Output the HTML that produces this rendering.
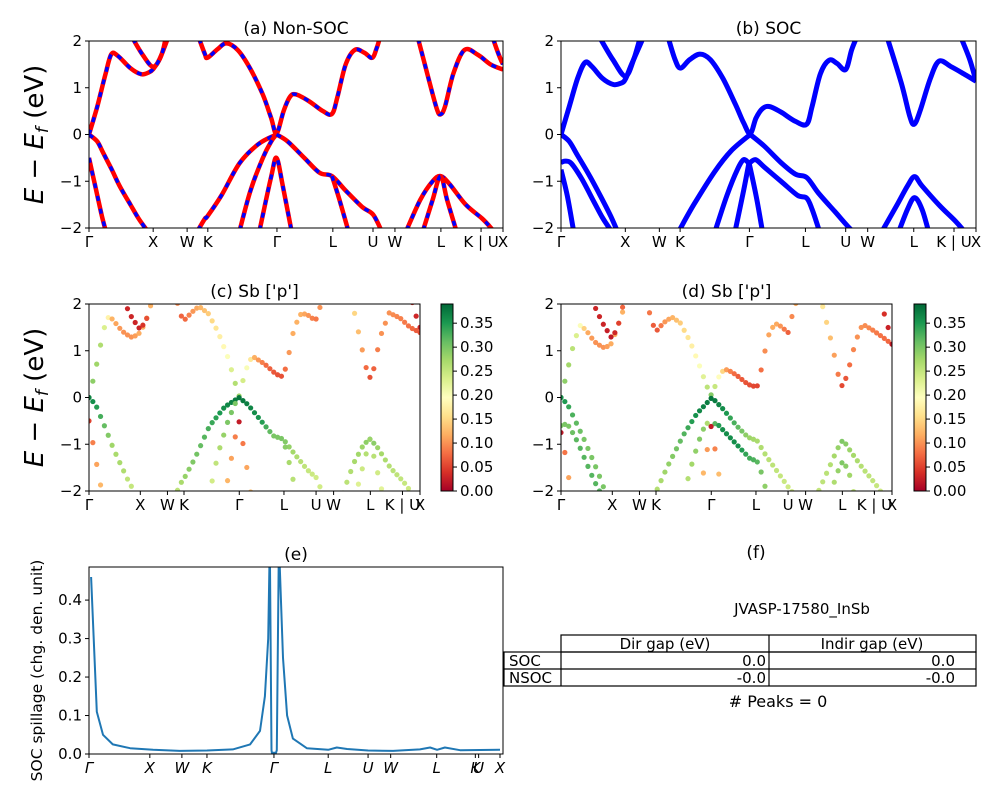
<!DOCTYPE html>
<html><head><meta charset="utf-8"><style>
body{margin:0;background:#fff}
svg{display:block;font-family:"DejaVu Sans","Liberation Sans",sans-serif}
</style></head><body>
<svg id="s" width="1000" height="800" viewBox="0 0 1000 800" xmlns="http://www.w3.org/2000/svg">
<defs>
<linearGradient id="cmap" x1="0" y1="1" x2="0" y2="0">
<stop offset="0" stop-color="#a50026"/><stop offset="0.1" stop-color="#d73027"/><stop offset="0.2" stop-color="#f46d43"/><stop offset="0.3" stop-color="#fdae61"/><stop offset="0.4" stop-color="#fee08b"/><stop offset="0.5" stop-color="#ffffbf"/><stop offset="0.6" stop-color="#d9ef8b"/><stop offset="0.7" stop-color="#a6d96a"/><stop offset="0.8" stop-color="#66bd63"/><stop offset="0.9" stop-color="#1a9850"/><stop offset="1" stop-color="#006837"/>
</linearGradient>
</defs>
<g id="root"></g>
<g font-size="15" fill="#000">
<text x="756" y="558" text-anchor="middle" font-size="17">(f)</text>
<text x="802" y="614" text-anchor="middle">JVASP-17580_InSb</text>
<g fill="none" stroke="#000" stroke-width="1.2">
<rect x="561" y="635" width="415" height="17"/>
<rect x="504" y="652" width="472" height="34"/>
<line x1="504" y1="669" x2="976" y2="669"/>
<line x1="561" y1="652" x2="561" y2="686"/>
<line x1="769" y1="635" x2="769" y2="686"/>
</g>
<text x="665" y="649" text-anchor="middle">Dir gap (eV)</text>
<text x="872" y="649" text-anchor="middle">Indir gap (eV)</text>
<text x="509" y="666">SOC</text>
<text x="509" y="683">NSOC</text>
<text x="766" y="666" text-anchor="end">0.0</text>
<text x="955" y="666" text-anchor="end">0.0</text>
<text x="766" y="683" text-anchor="end">-0.0</text>
<text x="955" y="683" text-anchor="end">-0.0</text>
<text x="778" y="707" text-anchor="middle" font-size="16"># Peaks = 0</text>
</g>
</svg>
<script>
const tickK=[0,.155,.237,.287,.454,.589,.686,.739,.850,.947,1];
const tickLab=["Γ","X","W","K","Γ","L","U","W","L","K | U","X"];
const eTicks=[2,1,0,-1,-2];
const eTickLab=["2","1","0","−1","−2"];
// Non-SOC bands: [k, E, weight]
const ns_cb1=[[0,0,.3],[.02,.6,.28],[.04,1.3,.26],[.054,1.72,.2],[.07,1.68,.12],[.1,1.42,.1],[.126,1.29,.1],[.145,1.33,.11],[.155,1.40,.12],[.17,1.6,.12],[.19,2.05,.12]];
const ns_cb2=[[.106,2.05,.03],[.13,1.7,.03],[.155,1.45,.03],[.175,1.7,.06],[.185,2.05,.08]];
const ns_cb3=[[.266,2.05,.1],[.28,1.72,.07],[.286,1.64,.07],[.31,1.82,.1],[.332,1.95,.12],[.36,1.8,.14],[.39,1.4,.17],[.42,.85,.2],[.44,.35,.26],[.453,.02,.28],[.47,.5,.22],[.485,.8,.18],[.499,.86,.12],[.53,.72,.08],[.565,.5,.06],[.587,.44,.06],[.6,.8,.1],[.62,1.5,.12],[.642,1.81,.12],[.665,1.75,.1],[.684,1.64,.08],[.695,1.85,.1],[.702,2.05,.1]];
const ns_cb4=[[.795,2.05,.16],[.82,1.2,.12],[.84,.55,.07],[.849,.43,.06],[.86,.6,.07],[.88,1.3,.1],[.907,1.81,.1],[.94,1.7,.09],[.97,1.5,.08],[1,1.39,.06]];
const ns_cb5=[[.976,2.05,.04],[.99,1.7,.03],[1,1.5,.03]];
const ns_vb1=[[0,0,.37],[.02,-.15,.35],[.034,-.39,.33],[.055,-.75,.3],[.074,-1.1,.27],[.1,-1.5,.27],[.12,-1.8,.25],[.14,-2.05,.25]];
const ns_vb2=[[0,-.5,.05],[.015,-1.1,.1],[.03,-1.7,.12],[.04,-2.05,.13]];
const ns_vb3=[[.263,-2.05,.25],[.28,-1.8,.27],[.286,-1.75,.28],[.32,-1.3,.3],[.364,-.61,.33],[.41,-.2,.36],[.453,0,.38]];
const ns_vb4=[[.364,-2.05,.23],[.39,-1.2,.26],[.42,-.5,.3],[.44,-.15,.3],[.453,0,.3]];
const ns_vb5=[[.453,0,.38],[.48,-.15,.37],[.52,-.5,.35],[.557,-.82,.3],[.587,-.89,.3],[.62,-1.2,.27],[.66,-1.55,.25],[.686,-1.71,.24],[.706,-2.05,.24]];
const ns_vb6=[[.587,-.89,.3],[.605,-1.4,.27],[.626,-2.05,.25]];
const ns_vb7=[[.412,-2.05,.13],[.44,-.9,.1],[.453,-.5,.02],[.468,-1.1,.1],[.489,-2.05,.13]];
const ns_vb8=[[.767,-2.05,.25],[.8,-1.4,.27],[.83,-1.0,.28],[.849,-.89,.3],[.87,-1.05,.28],[.91,-1.5,.26],[.95,-1.8,.25],[.976,-2.05,.24]];
const ns_vb9=[[.807,-2.05,.22],[.83,-1.4,.25],[.849,-.89,.28],[.865,-1.4,.25],[.887,-2.05,.22]];
// SOC bands
const so_cb1=[[0,0,.3],[.02,.6,.28],[.04,1.2,.25],[.058,1.54,.2],[.075,1.45,.12],[.1,1.2,.1],[.126,1.07,.1],[.145,1.1,.11],[.155,1.18,.12],[.17,1.5,.12],[.197,2.05,.12]];
const so_cb2=[[.095,2.05,.03],[.125,1.6,.03],[.155,1.25,.02],[.175,1.6,.05],[.19,2.05,.08]];
const so_cb3=[[.259,2.05,.1],[.275,1.6,.07],[.288,1.42,.06],[.31,1.6,.1],[.335,1.72,.12],[.36,1.6,.14],[.39,1.2,.17],[.42,.65,.2],[.44,.25,.25],[.456,.02,.3],[.47,.35,.22],[.485,.55,.16],[.502,.6,.1],[.53,.48,.07],[.565,.28,.06],[.592,.22,.05],[.605,.6,.08],[.625,1.3,.11],[.646,1.59,.12],[.665,1.52,.1],[.686,1.39,.07],[.7,1.8,.1],[.711,2.05,.12]];
const so_cb4=[[.787,2.05,.17],[.82,1.1,.12],[.84,.4,.08],[.851,.22,.05],[.865,.5,.07],[.89,1.2,.1],[.911,1.57,.1],[.94,1.45,.09],[.97,1.3,.08],[1,1.14,.07]];
const so_cb5=[[.965,2.05,.05],[.985,1.6,.03],[1,1.14,.02]];
const so_vb1=[[0,0,.36],[.02,-.15,.34],[.04,-.45,.32],[.07,-.9,.3],[.1,-1.4,.3],[.12,-1.75,.3],[.135,-2.05,.3]];
const so_vb2=[[0,-.6,.3],[.01,-.57,.3],[.025,-.62,.3],[.05,-.95,.32],[.08,-1.45,.32],[.1,-1.78,.32],[.12,-2.05,.32]];
const so_vb2b=[[0,-.75,.02],[.015,-1.3,.1],[.03,-2.05,.12]];
const so_vb3=[[.285,-2.05,.26],[.32,-1.5,.28],[.37,-.8,.32],[.41,-.35,.36],[.456,0,.38]];
const so_vb5=[[.456,0,.38],[.49,-.25,.36],[.53,-.6,.32],[.565,-.85,.28],[.592,-.92,.27],[.62,-1.25,.26],[.66,-1.65,.25],[.695,-2.0,.24],[.705,-2.05,.24]];
const so_vb4=[[.372,-2.05,.25],[.4,-1.3,.28],[.425,-.75,.3],[.44,-.54,.27],[.453,-.62,.25]];
const so_vb4b=[[.453,-.62,.25],[.469,-.54,.34],[.49,-.7,.36],[.53,-1.0,.36],[.57,-1.3,.33],[.592,-1.36,.32],[.605,-1.6,.3],[.622,-2.05,.28]];
const so_vb7a=[[.42,-2.05,.13],[.44,-1.2,.12],[.453,-.6,.02]];
const so_vb7b=[[.453,-.6,.02],[.47,-1.3,.12],[.485,-2.05,.14]];
const so_vb8=[[.775,-2.05,.25],[.81,-1.5,.26],[.835,-1.1,.28],[.852,-.9,.3],[.87,-1.1,.28],[.91,-1.5,.26],[.95,-1.85,.25],[.97,-2.05,.24]];
const so_vb9=[[.815,-2.05,.25],[.835,-1.6,.28],[.852,-1.35,.3],[.87,-1.6,.28],[.885,-2.05,.25]];
const nsBands=[ns_cb1,ns_cb2,ns_cb3,ns_cb4,ns_cb5,ns_vb1,ns_vb2,ns_vb3,ns_vb4,ns_vb5,ns_vb6,ns_vb7,ns_vb8,ns_vb9];
const soBands=[so_cb1,so_cb2,so_cb3,so_cb4,so_cb5,so_vb1,so_vb2,so_vb2b,so_vb3,so_vb5,so_vb4,so_vb4b,so_vb7a,so_vb7b,so_vb8,so_vb9];
// Spillage (e)
const spillTickK=[0,.148,.226,.287,.450,.582,.679,.734,.846,.940,.948,1];
const spillTickLab=["Γ","X","W","K","Γ","L","U","W","L","K","U","X"];
const spillK=[.005,.019,.034,.058,.100,.156,.221,.287,.350,.392,.416,.428,.436,.440,.444,.445,.455,.457,.462,.472,.482,.496,.530,.582,.603,.628,.679,.740,.805,.830,.847,.866,.903,1.0];
const spillV=[.46,.11,.05,.025,.015,.011,.008,.009,.012,.025,.06,.15,.3,.55,.01,.003,.003,.01,.55,.25,.1,.04,.015,.011,.017,.013,.009,.008,.012,.017,.011,.017,.010,.011];
const spillYTicks=[0,.1,.2,.3,.4];
const spillYLab=["0.0","0.1","0.2","0.3","0.4"];
const cbTicks=[0,.05,.1,.15,.2,.25,.3,.35];
const cbLab=["0.00","0.05","0.10","0.15","0.20","0.25","0.30","0.35"];
const cbMax=0.39;

const NS="http://www.w3.org/2000/svg";
const root=document.getElementById('root');
function mk(tag,attrs,parent){const e=document.createElementNS(NS,tag);for(const k in attrs)e.setAttribute(k,attrs[k]);(parent||root).appendChild(e);return e;}
const stops=[[0,[165,0,38]],[.1,[215,48,39]],[.2,[244,109,67]],[.3,[253,174,97]],[.4,[254,224,139]],[.5,[255,255,191]],[.6,[217,239,139]],[.7,[166,217,106]],[.8,[102,189,99]],[.9,[26,152,80]],[1,[0,104,55]]];
function cmap(w){let v=Math.max(0,Math.min(1,w/cbMax));for(let i=1;i<stops.length;i++){if(v<=stops[i][0]){const a=stops[i-1],b=stops[i],f=(v-a[0])/(b[0]-a[0]);const c=a[1].map((x,j)=>Math.round(x+(b[1][j]-x)*f));return `rgb(${c})`;}}return 'rgb(0,104,55)';}

function bandAxes(name,x0,y0,w,h,title,ylabel){
  const g=mk('g',{});
  const cid='clip-'+name;const cp=mk('clipPath',{id:cid},g);mk('rect',{x:x0,y:y0,width:w,height:h},cp);
  const plot=mk('g',{'clip-path':`url(#${cid})`},g);
  
  const X=k=>x0+k*w, Y=E=>y0+(2-E)/4*h;
  mk('rect',{x:x0,y:y0,width:w,height:h,fill:'none',stroke:'#000','stroke-width':1},g);
  eTicks.forEach((e,i)=>{mk('line',{x1:x0-4,x2:x0,y1:Y(e),y2:Y(e),stroke:'#000'},g);
    const t=mk('text',{x:x0-7,y:Y(e)+5,'text-anchor':'end','font-size':15},g);t.textContent=eTickLab[i];});
  tickK.forEach((k,i)=>{mk('line',{x1:X(k),x2:X(k),y1:y0+h,y2:y0+h+4,stroke:'#000'},g);
    const t=mk('text',{x:X(k),y:y0+h+19,'text-anchor':'middle','font-size':15},g);t.textContent=tickLab[i];});
  const tt=mk('text',{x:x0+w/2,y:y0-7,'text-anchor':'middle','font-size':17},g);tt.textContent=title;
  
  if(ylabel){const yl=mk('text',{transform:`translate(43,${y0+h/2}) rotate(-90)`,'text-anchor':'middle','font-size':26},g);
    
    yl.innerHTML='<tspan font-style="italic">E</tspan> − <tspan font-style="italic">E</tspan><tspan font-style="italic" font-size="17" dy="5">f</tspan><tspan dy="-5"> (eV)</tspan>';}
  return {plot,X,Y};
}
function pathOf(b,X,Y){
  const P=b.map(p=>[X(p[0]),Y(p[1])]);
  let d='M'+P[0][0].toFixed(1)+' '+P[0][1].toFixed(1);
  for(let i=0;i<P.length-1;i++){
    const p0=P[Math.max(0,i-1)],p1=P[i],p2=P[i+1],p3=P[Math.min(P.length-1,i+2)];
    const c1=[p1[0]+(p2[0]-p0[0])/6,p1[1]+(p2[1]-p0[1])/6];
    const c2=[p2[0]-(p3[0]-p1[0])/6,p2[1]-(p3[1]-p1[1])/6];
    d+='C'+c1.map(v=>v.toFixed(1)).join(' ')+' '+c2.map(v=>v.toFixed(1)).join(' ')+' '+p2.map(v=>v.toFixed(1)).join(' ');
  }
  return d;
}

// (a)
let A=bandAxes('panel-a-nonsoc',89,41,414,187,'(a) Non-SOC',true);
nsBands.forEach((b,i)=>{const d=pathOf(b,A.X,A.Y);
  const r=mk('path',{d,fill:'none',stroke:'#ff0000','stroke-width':4.5,'stroke-linejoin':'round'},A.plot);
  
  const bl=mk('path',{d,fill:'none',stroke:'#0000ff','stroke-width':3.5,'stroke-dasharray':'5 8'},A.plot);
  });
// (b)
let B=bandAxes('panel-b-soc',561,41,415,187,'(b) SOC',false);
soBands.forEach((b,i)=>{const p=mk('path',{d:pathOf(b,B.X,B.Y),fill:'none',stroke:'#0000ff','stroke-width':5,'stroke-linejoin':'round'},B.plot);
  });

function scatterBands(P,bands){
  const N=86;
  bands.forEach((b,bi)=>{
    for(let s=0;s<=N;s++){const k=s/N;if(k<b[0][0]-1e-9||k>b[b.length-1][0]+1e-9)continue;
      let j=1;while(j<b.length-1&&b[j][0]<k)j++;
      const a=b[j-1],c=b[j];const f=c[0]===a[0]?0:(k-a[0])/(c[0]-a[0]);
      const E=a[1]+(c[1]-a[1])*f,wt=a[2]+(c[2]-a[2])*f;
      const d=mk('circle',{cx:P.X(k),cy:P.Y(E),r:2.6,fill:cmap(wt)},P.plot);
      
      }
  });
}
function colorbar(name,x,y,w,h){
  const g=mk('g',{});
  mk('rect',{x,y,width:w,height:h,fill:'url(#cmap)',stroke:'#000','stroke-width':1},g);
  cbTicks.forEach((v,i)=>{const yy=y+h-v/cbMax*h;mk('line',{x1:x+w,x2:x+w+4,y1:yy,y2:yy,stroke:'#000'},g);
    const t=mk('text',{x:x+w+7,y:yy+5,'font-size':15},g);t.textContent=cbLab[i];});
}
let C=bandAxes('panel-c-sb-p',89,304,331,187,'(c)  Sb [\'p\']',true);
scatterBands(C,nsBands);colorbar('colorbar-c',441,304,12,187);
let D=bandAxes('panel-d-sb-p',561,304,331,187,'(d) Sb [\'p\']',false);
scatterBands(D,soBands);colorbar('colorbar-d',914,304,12,187);

// (e)
(function(){
  const x0=89,y0=567,w=414,h=187,kmax=1.0073,vmax=0.486;
  const g=mk('g',{});
  const X=k=>x0+k/kmax*w, Y=v=>y0+h-v/vmax*h;
  const cp=mk('clipPath',{id:'clip-e'},g);mk('rect',{x:x0,y:y0,width:w,height:h},cp);
  const pl=mk('path',{d:spillK.map((k,i)=>(i?'L':'M')+X(k).toFixed(1)+' '+Y(spillV[i]).toFixed(1)).join(''),fill:'none',stroke:'#1f77b4','stroke-width':2,'clip-path':'url(#clip-e)','stroke-linejoin':'round'},g);
  
  mk('rect',{x:x0,y:y0,width:w,height:h,fill:'none',stroke:'#000'},g);
  spillYTicks.forEach((v,i)=>{mk('line',{x1:x0-4,x2:x0,y1:Y(v),y2:Y(v),stroke:'#000'},g);
    const t=mk('text',{x:x0-7,y:Y(v)+5,'text-anchor':'end','font-size':15},g);t.textContent=spillYLab[i];});
  spillTickK.forEach((k,i)=>{mk('line',{x1:X(k),x2:X(k),y1:y0+h,y2:y0+h+4,stroke:'#000'},g);
    const t=mk('text',{x:X(k),y:y0+h+19,'text-anchor':'middle','font-size':15,'font-style':'italic'},g);t.textContent=spillTickLab[i];});
  const tt=mk('text',{x:x0+w/2,y:y0-7,'text-anchor':'middle','font-size':17},g);tt.textContent='(e)';
  const yl=mk('text',{transform:`translate(42,${y0+h/2+10}) rotate(-90)`,'text-anchor':'middle','font-size':15.5},g);
  yl.textContent='SOC spillage (chg. den. unit)';
  
})();
</script>
</body></html>
